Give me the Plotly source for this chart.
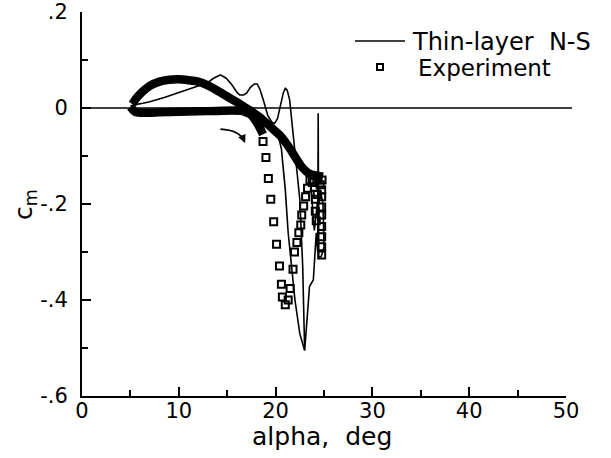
import plotly.graph_objects as go

# ---------------- data ----------------
# Thin-layer N-S computation: upstroke through stall, spike near max alpha, return
ns_alpha = [5.0, 5.5, 6.3, 7.0, 8.5, 10.0, 11.5, 12.9, 13.6, 14.3, 14.9, 15.5, 16.0, 16.3,
            16.7, 17.0, 17.4, 17.8, 18.1, 18.4, 18.8, 19.2, 19.6, 19.9, 20.2, 20.5, 20.8,
            21.0, 21.2, 21.45, 21.8, 22.2, 22.5, 22.8, 23.0, 23.25, 23.5, 23.9, 24.05,
            24.2, 24.35, 24.4, 24.45, 24.7, 25.0, 24.9, 24.6, 24.3, 24.0, 23.8, 23.6,
            23.3, 22.6, 21.5, 20.6, None,
            20.3, 20.6, 21.0, 21.3, 21.7, 22.0, 22.5, 23.0]
ns_cm = [0.004, 0.007, 0.010, 0.013, 0.022, 0.032, 0.042, 0.052, 0.062, 0.069, 0.062, 0.048,
         0.033, 0.027, 0.027, 0.031, 0.043, 0.050, 0.050, 0.038, 0.012, -0.016, -0.029,
         -0.032, -0.022, 0.005, 0.032, 0.041, 0.037, 0.017, -0.050, -0.120, -0.190,
         -0.330, -0.505, -0.440, -0.372, -0.358, -0.300, -0.260, -0.300, -0.011, -0.310,
         -0.310, -0.290, -0.200, -0.170, -0.200, -0.255, -0.200, -0.150, -0.130, -0.118,
         -0.085, -0.070, None,
         -0.060, -0.085, -0.170, -0.260, -0.340, -0.400, -0.470, -0.505]

# Experiment: densely sampled portion (appears as a solid band)
band_alpha = [5.0, 5.5, 6.5, 8.0, 10.0, 12.0, 14.0, 15.5, 16.5, 17.5, 18.2, 18.7, None,
              24.9, 23.5, 22.6, 21.5, 20.5, 19.5, 18.4, 17.5, 16.7, 16.0, 15.0, 14.0,
              13.0, 12.0, 11.0, 10.0, 9.0, 8.0, 7.0, 6.2, 5.6, 5.2]
band_cm = [0.002, -0.008, -0.010, -0.009, -0.008, -0.007, -0.006, -0.005, -0.006, -0.015,
           -0.035, -0.055, None,
           -0.143, -0.137, -0.120, -0.085, -0.058, -0.040, -0.020, -0.007, 0.003, 0.012,
           0.024, 0.036, 0.047, 0.055, 0.058, 0.060, 0.059, 0.055, 0.046, 0.033, 0.020,
           0.008]

# Experiment: individually visible points
exp_alpha = [18.7, 19.0, 19.25, 19.5, 19.8, 20.1, 20.4, 20.6, 20.7, 21.0, 21.3, 21.5,
             21.8, 21.95, 22.2, 22.4, 22.6, 22.7, 22.9, 23.1, 23.3, 23.55, 23.8, 24.0,
             24.1, 24.3, 24.6,
             24.76, 24.76, 24.76, 24.76, 24.76, 24.76, 24.76, 24.76, 24.8, 24.1, 24.2, 24.3]
exp_cm = [-0.070, -0.103, -0.147, -0.190, -0.237, -0.284, -0.329, -0.367, -0.394, -0.410,
          -0.400, -0.376, -0.336, -0.300, -0.280, -0.260, -0.244, -0.223, -0.204, -0.185,
          -0.167, -0.150, -0.155, -0.165, -0.190, -0.150, -0.160,
          -0.171, -0.185, -0.206, -0.223, -0.247, -0.268, -0.289, -0.306, -0.150, -0.215,
          -0.235, -0.180]

x_tickvals = [0, 10, 20, 30, 40, 50]
x_ticktext = ["0", "10", "20", "30", "40", "50"]
y_tickvals = [0.2, 0.0, -0.2, -0.4, -0.6]
y_ticktext = [".2", "0", "-.2", "-.4", "-.6"]

FONT = "DejaVu Sans"
NB = "\u00a0"

# plot area in pixels: x 82..566, y 12..396
L, R, T, B = 82, 566, 12, 396
def px(xp):
    return (xp - L) / (R - L)
def py(yp):
    return (B - yp) / (B - T)

fig = go.Figure()

fig.add_trace(go.Scatter(x=band_alpha, y=band_cm, mode="lines", showlegend=False,
                         line=dict(color="black", width=8.5, shape="spline", smoothing=0.6),
                         connectgaps=False, hoverinfo="skip"))
fig.add_trace(go.Scatter(x=ns_alpha, y=ns_cm, mode="lines", name="Thin-layer N-S",
                         showlegend=False,
                         line=dict(color="black", width=1.6), connectgaps=False))
fig.add_trace(go.Scatter(x=exp_alpha, y=exp_cm, mode="markers", name="Experiment",
                         showlegend=False,
                         marker=dict(symbol="square-open", size=7, color="black",
                                     line=dict(width=2, color="black"))))

# zero line (extends slightly past the axis end)
fig.add_shape(type="line", xref="paper", yref="y", x0=0, x1=px(572), y0=0, y1=0,
              line=dict(color="black", width=1.5))

# curved arrow
fig.add_shape(type="path", xref="x", yref="y",
              path="M 14.3,-0.044 Q 16.3,-0.046 16.8,-0.070",
              line=dict(color="black", width=1.6))
fig.add_annotation(x=16.85, y=-0.073, ax=-4, ay=-9, xref="x", yref="y",
                   axref="pixel", ayref="pixel",
                   showarrow=True, arrowhead=2, arrowsize=1, arrowwidth=1.6,
                   arrowcolor="black", text="")

# legend drawn by hand
fig.add_shape(type="line", xref="paper", yref="paper", x0=px(355), x1=px(405),
              y0=py(41), y1=py(41), line=dict(color="black", width=1.6))
fig.add_shape(type="rect", xref="paper", yref="paper", x0=px(377), x1=px(383),
              y0=py(70), y1=py(64), line=dict(color="black", width=2))
fig.add_annotation(xref="paper", yref="paper", x=px(410), y=py(42), xanchor="left",
                   yanchor="middle", showarrow=False,
                   text="Thin-layer" + NB + NB + "N-S", font=dict(size=24, family=FONT))
fig.add_annotation(xref="paper", yref="paper", x=px(416), y=py(68), xanchor="left",
                   yanchor="middle", showarrow=False,
                   text="Experiment", font=dict(size=23, family=FONT))

# axis titles
fig.add_annotation(xref="paper", yref="paper", x=px(322), y=py(436), xanchor="center",
                   yanchor="middle", showarrow=False,
                   text="alpha," + NB + NB + "deg", font=dict(size=25, family=FONT))
fig.add_annotation(xref="paper", yref="paper", x=px(25), y=py(205), xanchor="center",
                   yanchor="middle", showarrow=False, textangle=-90,
                   text="c<sub>m</sub>", font=dict(size=25, family=FONT))

fig.update_layout(
    template="none",
    width=611, height=458,
    margin=dict(l=L, r=611 - R, t=T, b=458 - B, autoexpand=False),
    paper_bgcolor="white", plot_bgcolor="white",
    font=dict(family=FONT, color="black", size=21),
    showlegend=False,
)

fig.update_xaxes(range=[0, 50], showline=True, linecolor="black", linewidth=2,
                 showgrid=False, zeroline=False, mirror=False, automargin=False,
                 tickmode="array", tickvals=x_tickvals, ticktext=x_ticktext,
                 ticks="inside", ticklen=9, tickwidth=1.5, tickcolor="black",
                 minor=dict(dtick=5, tick0=0, ticks="inside", ticklen=6, tickwidth=1.5,
                            tickcolor="black", showgrid=False),
                 tickfont=dict(size=21, family=FONT), ticklabelstandoff=-5)

fig.update_yaxes(range=[-0.6, 0.2], showline=True, linecolor="black", linewidth=2,
                 showgrid=False, zeroline=False, mirror=False, automargin=False,
                 tickmode="array", tickvals=y_tickvals, ticktext=y_ticktext,
                 ticks="inside", ticklen=9, tickwidth=1.5, tickcolor="black",
                 minor=dict(dtick=0.1, tick0=0, ticks="inside", ticklen=6, tickwidth=1.5,
                            tickcolor="black", showgrid=False),
                 tickfont=dict(size=21, family=FONT), ticklabelstandoff=8)

fig.write_html("out.html", config={"displayModeBar": False},
               post_script="document.body.style.margin='0';document.body.style.padding='0';")
